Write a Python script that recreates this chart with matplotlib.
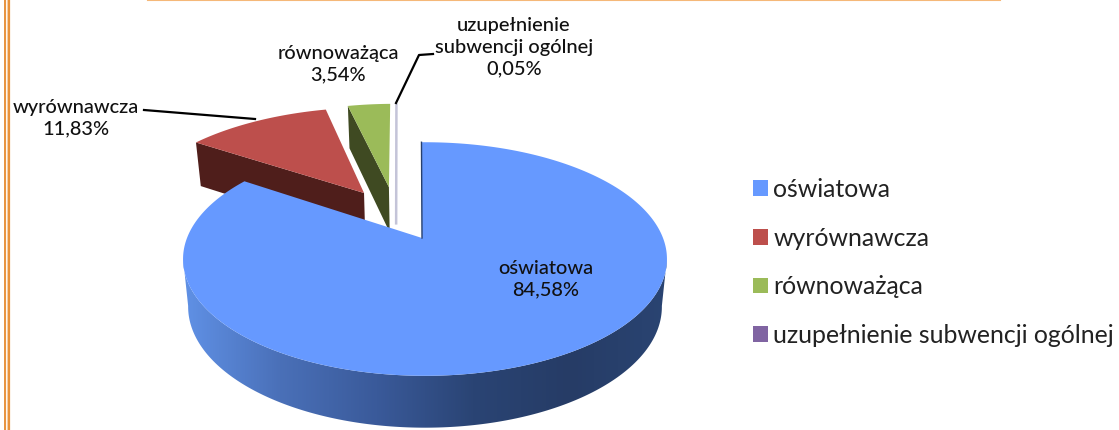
import numpy as np
import matplotlib
matplotlib.use('Agg')
import matplotlib.pyplot as plt
from matplotlib.colors import LinearSegmentedColormap
from matplotlib.patches import Patch, Polygon

plt.rcParams['font.family'] = ['Lato', 'DejaVu Sans']

# chart data
categories = ['oświatowa', 'wyrównawcza', 'równoważąca', 'uzupełnienie subwencji ogólnej']
shares = [84.58, 11.83, 3.54, 0.05]

top_colors = ['#6699ff', '#bd4f4c', '#9bbb59', '#8064a2']
side_colors = ['#3f5f9f', '#4f1e1b', '#3f4a22', '#c4c4d8']

# perspective of the pie, all in pixels of the figure
CX, CY = 425, 238
APEX_U = -0.0126
B_TOP, A_TOP = 238, 113
B_BOT, A_BOT, DROP = 233, 117, 47
K = 0.18
START = -1.0
# how far each slice is pulled out, in pie units
pull = [(APEX_U, 0.0), (-0.276, 0.429), (-0.165, 0.49), (-0.135, 0.50)]
RADIUS = [1.0, 1.03, 1.02, 1.0]


def top_xy(u, v):
    w = 1 + K * v
    return CX + B_TOP * u / w, CY - A_TOP * v / w


def bot_xy(u, v):
    w = 1 + K * v
    return CX + B_BOT * u / w, CY + DROP - A_BOT * v / w


def ring(a1, a2, r=1.0, c=(0.0, 0.0), n=200):
    t = np.radians(np.linspace(a1, a2, n))
    return c[0] + r * np.sin(t), c[1] + r * np.cos(t)


fig = plt.figure(figsize=(11.19, 4.30), dpi=100)
ax = fig.add_axes([0, 0, 1, 1])
ax.set_xlim(0, 1119)
ax.set_ylim(430, 0)
ax.axis('off')

# frame pieces of the page behind the chart
ax.plot([148, 1000], [0.3, 0.3], color='#f5b878', lw=1.5, zorder=1)
ax.plot([5.3, 5.3], [0, 430], color='#e8923c', lw=1.4, zorder=1)
ax.plot([7.3, 7.3], [0, 430], color='#f8d6b0', lw=1.0, zorder=1)
ax.plot([9.2, 9.2], [0, 430], color='#e8923c', lw=1.6, zorder=1)

edges = START + np.cumsum([0] + shares) * 3.6

# exploded slices: cut side first, then the top
for i in [1, 2, 3]:
    c = pull[i]
    a1, a2 = edges[i], edges[i + 1]
    u, v = ring(a1, a2, RADIUS[i], c)
    if i == 3:
        x0, y0 = top_xy(u[-1], v[-1])
        x1, y1 = bot_xy(c[0], c[1])
        ax.plot([x0, x1], [y0, y1 - 8], color=side_colors[i], lw=1.8, zorder=3)
        continue
    tx, ty = top_xy(np.array([u[0], c[0]]), np.array([v[0], c[1]]))
    bx, by = bot_xy(np.array([c[0], u[0]]), np.array([c[1], v[0]]))
    ax.add_patch(Polygon(np.column_stack([np.r_[tx, bx], np.r_[ty, by]]),
                         fc=side_colors[i], ec='none', zorder=2 + i))
    tx, ty = top_xy(np.r_[c[0], u], np.r_[c[1], v])
    ax.add_patch(Polygon(np.column_stack([tx, ty]), fc=top_colors[i], ec='none', zorder=2 + i))

# outer wall of the big slice with its left to right shading
u, v = ring(100, 260)
tx, ty = top_xy(u, v)
bx, by = bot_xy(u, v)
wall = Polygon(np.column_stack([np.r_[tx, bx[::-1]], np.r_[ty, by[::-1]]]),
               fc='none', ec='none', zorder=6)
ax.add_patch(wall)
shade = LinearSegmentedColormap.from_list('wall', ['#6091e6', '#4a70b8', '#3a5a9a', '#2a4474', '#263c66', '#2a4472'])
img = ax.imshow(np.linspace(0, 1, 256).reshape(1, -1), cmap=shade, aspect='auto',
                extent=[183, 667, 430, 250], zorder=6)
img.set_clip_path(wall)
ax.set_xlim(0, 1119)
ax.set_ylim(430, 0)

# top of the big slice
u, v = ring(edges[0], edges[1], 1.0, (0.0, 0.0), n=500)
tx, ty = top_xy(np.r_[APEX_U, u], np.r_[0.0, v])
ax.add_patch(Polygon(np.column_stack([tx, ty]), fc=top_colors[0], ec='none', zorder=7))
ax.plot(tx[:2], ty[:2], color='#27406e', lw=1.0, zorder=8)


def pct(x):
    return f'{x:.2f}%'.replace('.', ',')


text_kw = dict(ha='center', va='center', fontsize=14.4, fontweight='medium', color='#111111',
               linespacing=1.35, zorder=10)
ax.text(546, 279, f'{categories[0]}\n{pct(shares[0])}', **text_kw)
ax.text(76, 118, f'{categories[1]}\n{pct(shares[1])}', **text_kw)
ax.text(338, 64, f'{categories[2]}\n{pct(shares[2])}', **text_kw)
ax.text(514, 47, f'uzupełnienie\nsubwencji ogólnej\n{pct(shares[3])}', **text_kw)

# leader lines
ax.plot([144, 255], [110, 119], color='black', lw=1.6, zorder=9)
ax.plot([433, 419, 396], [54, 55, 103], color='black', lw=1.6, zorder=9)

handles = [Patch(fc=c, ec='none') for c in top_colors]
ax.legend(handles, categories, loc='upper left', bbox_to_anchor=(753 / 1119, 1 - 178 / 430),
          frameon=False, fontsize=17.9, labelcolor='#222222', handlelength=0.6, handleheight=0.6,
          handletextpad=0.22, labelspacing=1.03, borderpad=0, borderaxespad=0)

fig.savefig('out.png', dpi=100)
